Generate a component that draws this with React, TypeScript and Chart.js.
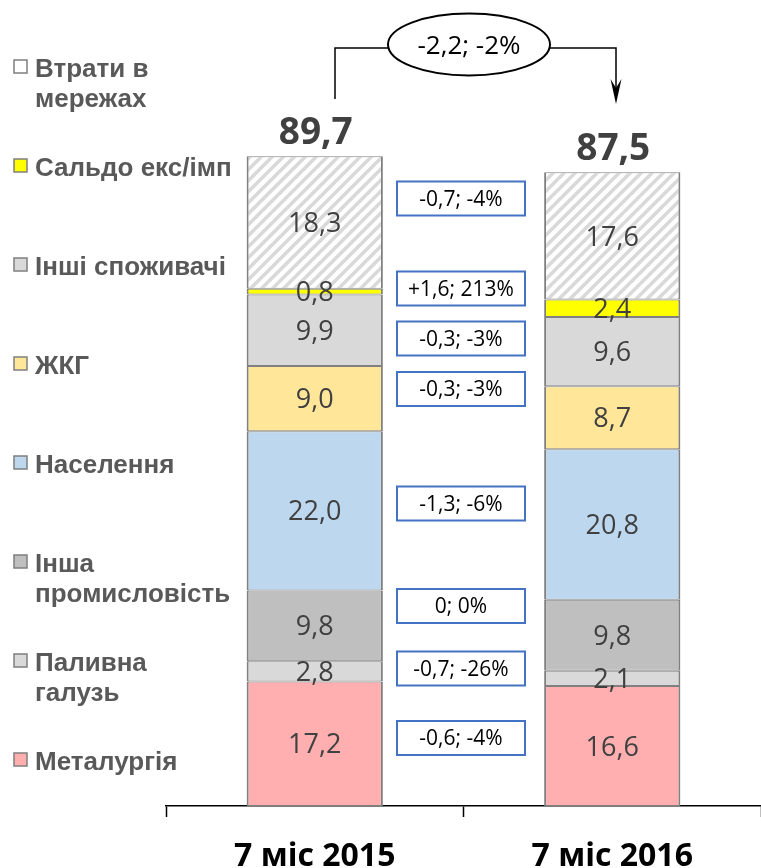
import React, { useEffect, useRef } from "react";
import { Chart, registerables } from "chart.js";

Chart.register(...registerables);

// ---------- data ----------
const categories = ["7 міс 2015", "7 міс 2016"];
const seriesNames = [
  "Металургія",
  "Паливна\nгалузь",
  "Інша\nпромисловість",
  "Населення",
  "ЖКГ",
  "Інші споживачі",
  "Сальдо екс/імп",
  "Втрати в\nмережах",
];
const metallurgy = [17.2, 16.6];
const fuelIndustry = [2.8, 2.1];
const otherIndustry = [9.8, 9.8];
const population = [22.0, 20.8];
const housing = [9.0, 8.7];
const otherConsumers = [9.9, 9.6];
const exportImport = [0.8, 2.4];
const gridLosses = [18.3, 17.6];
const totals = [89.7, 87.5];
const changeLabels = [
  "-0,6; -4%",
  "-0,7; -26%",
  "0; 0%",
  "-1,3; -6%",
  "-0,3; -3%",
  "-0,3; -3%",
  "+1,6; 213%",
  "-0,7; -4%",
];
const totalChangeLabel = "-2,2; -2%";

// ---------- styles / layout ----------
const seriesColors = [
  "#FFAFAF",
  "#D9D9D9",
  "#BFBFBF",
  "#BDD7EE",
  "#FFE699",
  "#D9D9D9",
  "#FFFF00",
  "HATCH",
];
// vertical centres (px) of the change boxes, same order as the series
const changeBoxCenters = [738, 668.5, 606, 503.5, 389, 338.5, 288.5, 198.5];

const fmt = (v: number) => v.toFixed(1).replace(".", ",");

function makeHatch(ctx: CanvasRenderingContext2D): CanvasPattern | string {
  const s = 11;
  const c = document.createElement("canvas");
  c.width = s;
  c.height = s;
  const g = c.getContext("2d");
  if (!g) return "#ffffff";
  g.fillStyle = "#ffffff";
  g.fillRect(0, 0, s, s);
  g.strokeStyle = "#D9D9D9";
  g.lineWidth = 3.5;
  g.lineCap = "square";
  for (const x0 of [-s, 0, s]) {
    g.beginPath();
    g.moveTo(x0, s);
    g.lineTo(x0 + s, 0);
    g.stroke();
  }
  return ctx.createPattern(c, "repeat") || "#ffffff";
}

const overlayPlugin = {
  id: "overlay",
  afterDraw(chart: any) {
    const ctx: CanvasRenderingContext2D = chart.ctx;
    ctx.save();

    // segment value labels
    const labelSize = 27;
    ctx.font = `${labelSize}px 'Open Sans', sans-serif`;
    ctx.fillStyle = "#404040";
    ctx.textAlign = "center";
    ctx.textBaseline = "alphabetic";
    chart.data.datasets.forEach((ds: any, di: number) => {
      const meta = chart.getDatasetMeta(di);
      meta.data.forEach((el: any, i: number) => {
        const cy = (el.y + el.base) / 2;
        ctx.fillText(fmt(ds.data[i]), el.x, cy + labelSize * 0.357);
      });
    });

    // totals above the bars
    const lastMeta = chart.getDatasetMeta(chart.data.datasets.length - 1);
    ctx.font = "bold 37px 'Open Sans', sans-serif";
    ctx.fillStyle = "#404040";
    lastMeta.data.forEach((el: any, i: number) => {
      ctx.fillText(fmt(totals[i]), el.x + 1, el.y - 12);
    });

    // change boxes
    const boxX = 397;
    const boxW = 128;
    const boxH = 34;
    ctx.font = "21px 'Open Sans', sans-serif";
    changeLabels.forEach((t, i) => {
      const cy = changeBoxCenters[i];
      ctx.fillStyle = "#ffffff";
      ctx.fillRect(boxX, cy - boxH / 2, boxW, boxH);
      ctx.strokeStyle = "#4472C4";
      ctx.lineWidth = 2;
      ctx.strokeRect(boxX, cy - boxH / 2, boxW, boxH);
      ctx.fillStyle = "#000000";
      ctx.fillText(t, boxX + boxW / 2, cy + 21 * 0.357);
    });

    // connector with arrow
    ctx.strokeStyle = "#000000";
    ctx.lineWidth = 1.5;
    ctx.beginPath();
    ctx.moveTo(335, 99);
    ctx.lineTo(335, 48);
    ctx.lineTo(390, 48);
    ctx.moveTo(548, 48);
    ctx.lineTo(616, 48);
    ctx.lineTo(616, 92);
    ctx.stroke();
    ctx.fillStyle = "#000000";
    ctx.beginPath();
    ctx.moveTo(616, 104);
    ctx.lineTo(610.5, 79);
    ctx.lineTo(616, 88);
    ctx.lineTo(621.5, 79);
    ctx.closePath();
    ctx.fill();

    // ellipse with total change
    ctx.beginPath();
    ctx.ellipse(469, 44.5, 81, 31, 0, 0, Math.PI * 2);
    ctx.fillStyle = "#ffffff";
    ctx.fill();
    ctx.lineWidth = 2;
    ctx.stroke();
    ctx.fillStyle = "#000000";
    ctx.font = "26px 'Open Sans', sans-serif";
    ctx.fillText(totalChangeLabel, 469, 44.5 + 26 * 0.357);

    // legend (top to bottom = reverse of stack order)
    ctx.textAlign = "left";
    ctx.font = "bold 26px 'Liberation Sans', Arial, sans-serif";
    const n = seriesNames.length;
    for (let k = 0; k < n; k++) {
      const di = n - 1 - k;
      const baseline = 77 + 99 * k;
      const col = seriesColors[di];
      ctx.fillStyle = col === "HATCH" ? "#ffffff" : col;
      ctx.fillRect(14, baseline - 17, 13, 13);
      ctx.strokeStyle = "#7F7F7F";
      ctx.lineWidth = 1.5;
      ctx.strokeRect(14, baseline - 17, 13, 13);
      ctx.fillStyle = "#595959";
      seriesNames[di].split("\n").forEach((ln, j) => {
        ctx.fillText(ln, 35, baseline + 30 * j);
      });
    }

    ctx.restore();
  },
};

export default function App() {
  const ref = useRef<HTMLCanvasElement | null>(null);

  useEffect(() => {
    const canvas = ref.current;
    if (!canvas) return;
    const ctx = canvas.getContext("2d");
    if (!ctx) return;
    const hatch = makeHatch(ctx);
    const values = [
      metallurgy,
      fuelIndustry,
      otherIndustry,
      population,
      housing,
      otherConsumers,
      exportImport,
      gridLosses,
    ];
    const chart = new Chart(canvas, {
      type: "bar",
      data: {
        labels: categories,
        datasets: values.map((d, i) => ({
          label: seriesNames[i].replace("\n", " "),
          data: d,
          backgroundColor: seriesColors[i] === "HATCH" ? (hatch as any) : seriesColors[i],
          borderColor: "#808080",
          borderWidth: { top: 1, bottom: 1, left: 2, right: 2 },
          borderSkipped: false,
          barPercentage: 0.458,
          categoryPercentage: 1,
        })),
      },
      options: {
        animation: false,
        responsive: true,
        maintainAspectRatio: false,
        layout: { padding: { left: 166, right: 0, top: 82.5, bottom: 0 } },
        plugins: {
          legend: { display: false },
          tooltip: { enabled: false },
        },
        scales: {
          x: {
            stacked: true,
            offset: true,
            grid: {
              display: true,
              offset: true,
              drawOnChartArea: false,
              drawTicks: true,
              tickLength: 11,
              tickWidth: 1.5,
              tickColor: "#000000",
            },
            border: { display: true, color: "#000000", width: 1.5 },
            ticks: {
              color: "#000000",
              padding: 21,
              font: { family: "'Open Sans', sans-serif", size: 32, weight: "bold" },
            },
            afterFit: (scale: any) => {
              scale.height = 62;
            },
          },
          y: {
            stacked: true,
            display: false,
            min: 0,
            max: 100,
          },
        },
      },
      plugins: [overlayPlugin],
    });
    return () => chart.destroy();
  }, []);

  return (
    <div style={{ position: "absolute", left: 0, top: 0, width: 761, height: 868 }}>
      <canvas ref={ref} />
    </div>
  );
}
